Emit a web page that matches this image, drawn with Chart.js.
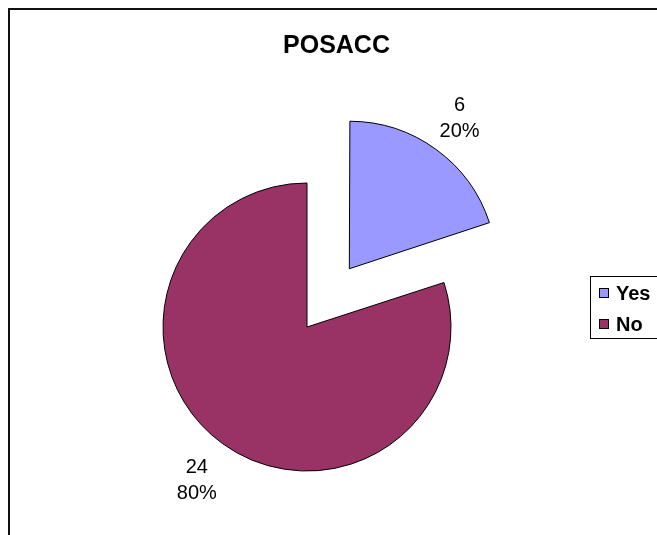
<!DOCTYPE html>
<html>
<head>
<meta charset="utf-8">
<script src="https://cdn.jsdelivr.net/npm/chart.js@4.4.0/dist/chart.umd.min.js"></script>
<style>
  html, body { margin: 0; padding: 0; background: #fff; overflow: hidden; }
  #wrap { position: relative; width: 657px; height: 535px; }
  #frame { position: absolute; left: 8px; top: 8px; width: 700px; height: 600px; border: 2px solid #111; box-sizing: border-box; }
  canvas { position: absolute; left: 0; top: 0; }
</style>
</head>
<body>
<div id="wrap">
  <div id="frame"></div>
  <canvas id="posaccChart" width="657" height="535"></canvas>
</div>
<script>
const chartTitle = 'POSACC';
const categories = ['Yes', 'No'];
const counts = [6, 24];
const sliceColors = ['#9999FF', '#993366'];

const FONT = '"Liberation Sans", Arial, sans-serif';
const total = counts.reduce((a, b) => a + b, 0);

// title, value labels and the boxed legend are painted after the slices
const decorations = {
  id: 'decorations',
  afterDatasetsDraw(chart) {
    const ctx = chart.ctx;
    ctx.save();
    ctx.fillStyle = '#000';
    ctx.textAlign = 'center';
    ctx.textBaseline = 'alphabetic';

    // title
    ctx.font = 'bold 25px ' + FONT;
    ctx.fillText(chartTitle, 336.5, 52.5);

    // "count / percent" next to each slice
    ctx.font = '20px ' + FONT;
    const meta = chart.getDatasetMeta(0);
    meta.data.forEach((arc, i) => {
      const p = arc.getProps(['x', 'y', 'startAngle', 'endAngle', 'outerRadius'], true);
      const mid = (p.startAngle + p.endAngle) / 2;
      const shift = (arc.options.offset || 0) / 4;
      const d = shift + p.outerRadius + 43.5;
      const cx = p.x + Math.cos(mid) * d;
      const cy = p.y + Math.sin(mid) * d;
      const pct = Math.round(counts[i] / total * 100) + '%';
      ctx.fillText(String(counts[i]), cx, cy - 12.8 + 7.2);
      ctx.fillText(pct, cx, cy + 12.8 + 7.2);
    });

    // legend
    ctx.lineWidth = 1;
    ctx.strokeStyle = '#000';
    ctx.strokeRect(590.5, 276.5, 80, 62);
    ctx.font = 'bold 20px ' + FONT;
    ctx.textAlign = 'left';
    categories.forEach((name, i) => {
      const cy = 293 + i * 31;
      ctx.fillStyle = sliceColors[i];
      ctx.fillRect(599.5, cy - 4.5, 9, 9);
      ctx.strokeRect(599.5, cy - 4.5, 9, 9);
      ctx.fillStyle = '#000';
      ctx.fillText(name, 616, cy + 7.2);
    });
    ctx.restore();
  }
};

new Chart(document.getElementById('posaccChart'), {
  type: 'pie',
  data: {
    labels: categories,
    datasets: [{
      data: counts,
      backgroundColor: sliceColors,
      borderColor: '#000',
      borderWidth: 1,
      offset: [288, 0],
      hoverOffset: 0,
      radius: 144,
      clip: false
    }]
  },
  options: {
    responsive: false,
    animation: false,
    events: [],
    layout: { padding: { left: 0, right: 43, top: 119, bottom: 0 } },
    plugins: {
      legend: { display: false },
      title: { display: false },
      tooltip: { enabled: false }
    }
  },
  plugins: [decorations]
});
</script>
</body>
</html>
